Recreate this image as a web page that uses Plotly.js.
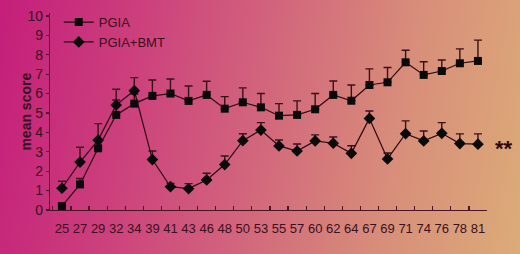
<!DOCTYPE html>
<html><head><meta charset="utf-8">
<script src="https://cdn.plot.ly/plotly-3.0.1.min.js"></script>
<style>
html,body{margin:0;padding:0;}
#chart{width:520px;height:254px;background:linear-gradient(100deg,#c41e7a 0%,#cc3f7c 25%,#d2667c 50%,#d88e7a 75%,#dcab78 100%);}
</style></head>
<body><div id="chart"></div>
<script>
const days = ["25","27","29","32","34","39","41","43","46","48","50","53","55","57","60","62","64","67","69","71","74","76","78","81"];
const pgia = [0.2,1.32,3.18,4.9,5.48,5.88,6.0,5.62,5.93,5.22,5.55,5.29,4.86,4.9,5.19,5.93,5.63,6.44,6.58,7.61,6.96,7.16,7.56,7.68];
const pgiaErr = [0.1,0.3,0.4,0.77,0.5,0.82,0.75,0.77,0.7,0.62,0.74,0.71,0.62,0.72,0.81,0.72,0.81,0.83,0.76,0.62,0.68,0.57,0.74,1.07];
const bmt = [1.12,2.47,3.6,5.41,6.15,2.6,1.2,1.1,1.55,2.34,3.57,4.12,3.3,3.04,3.56,3.44,2.92,4.72,2.63,3.93,3.56,3.95,3.42,3.39];
const bmtErr = [0.36,0.76,0.85,0.81,0.67,0.44,0.17,0.26,0.34,0.44,0.36,0.38,0.31,0.36,0.31,0.32,0.39,0.38,0.31,0.66,0.51,0.55,0.5,0.53];
const yTicks = [0,1,2,3,4,5,6,7,8,9,10];

const ink = '#2a0a10';
const axisCol = '#4a1424';
const fam = '"Liberation Sans",Arial,sans-serif';
const txtCol = '#3a1020';

const traces = [
  {x:days, y:pgia, name:'PGIA', type:'scatter', mode:'lines+markers', cliponaxis:false,
   line:{color:ink,width:1.2}, marker:{symbol:'square',size:8,color:'#0a0a0a'},
   error_y:{type:'data',array:pgiaErr,symmetric:false,arrayminus:pgiaErr.map(()=>0),color:'#3a1018',thickness:1.4,width:4}},
  {x:days, y:bmt, name:'PGIA+BMT', type:'scatter', mode:'lines+markers', cliponaxis:false,
   line:{color:ink,width:1.2}, marker:{symbol:'diamond',size:9,color:'#0a0a0a'},
   error_y:{type:'data',array:bmtErr,symmetric:false,arrayminus:bmtErr.map(()=>0),color:'#3a1018',thickness:1.4,width:4}}
];

const layout = {
  width:520, height:254,
  margin:{l:50, r:33, t:13, b:44, autoexpand:false},
  paper_bgcolor:'rgba(0,0,0,0)', plot_bgcolor:'rgba(0,0,0,0)',
  font:{family:fam, size:13, color:txtCol},
  showlegend:true,
  legend:{x:0.02, y:1.03, xanchor:'left', yanchor:'top', bgcolor:'rgba(0,0,0,0)', font:{family:fam,size:13,color:txtCol}, itemwidth:30, tracegroupgap:4},
  xaxis:{type:'category', range:[-0.66,23.5], showline:true, linecolor:axisCol, linewidth:1.2, showgrid:false, zeroline:false,
         ticks:'inside', tickson:'boundaries', ticklen:4, tickcolor:axisCol, tickwidth:1.2, ticklabelstandoff:6, tickangle:0,
         tickfont:{family:fam,size:13,color:txtCol}},
  yaxis:{range:[0,10.15], tickvals:yTicks, ticktext:yTicks.map(String), showline:true, linecolor:axisCol, linewidth:1.2,
         showgrid:false, zeroline:false, ticks:'outside', ticklen:3, tickcolor:axisCol, tickwidth:1.2,
         tickfont:{family:fam,size:14,color:txtCol}},
  annotations:[
    {xref:'paper', yref:'paper', x:-0.057, y:0.5, xanchor:'center', yanchor:'middle', showarrow:false, textangle:-90,
     text:'<b>mean score</b>', font:{family:fam, size:14, color:txtCol}},
    {xref:'paper', yref:'paper', x:1.04, y:0.31, xanchor:'center', yanchor:'middle', showarrow:false,
     text:'<b>**</b>', font:{family:fam, size:22, color:'#2a0a10'}}]
};
Plotly.newPlot('chart', traces, layout, {displayModeBar:false, staticPlot:true});
</script></body></html>
